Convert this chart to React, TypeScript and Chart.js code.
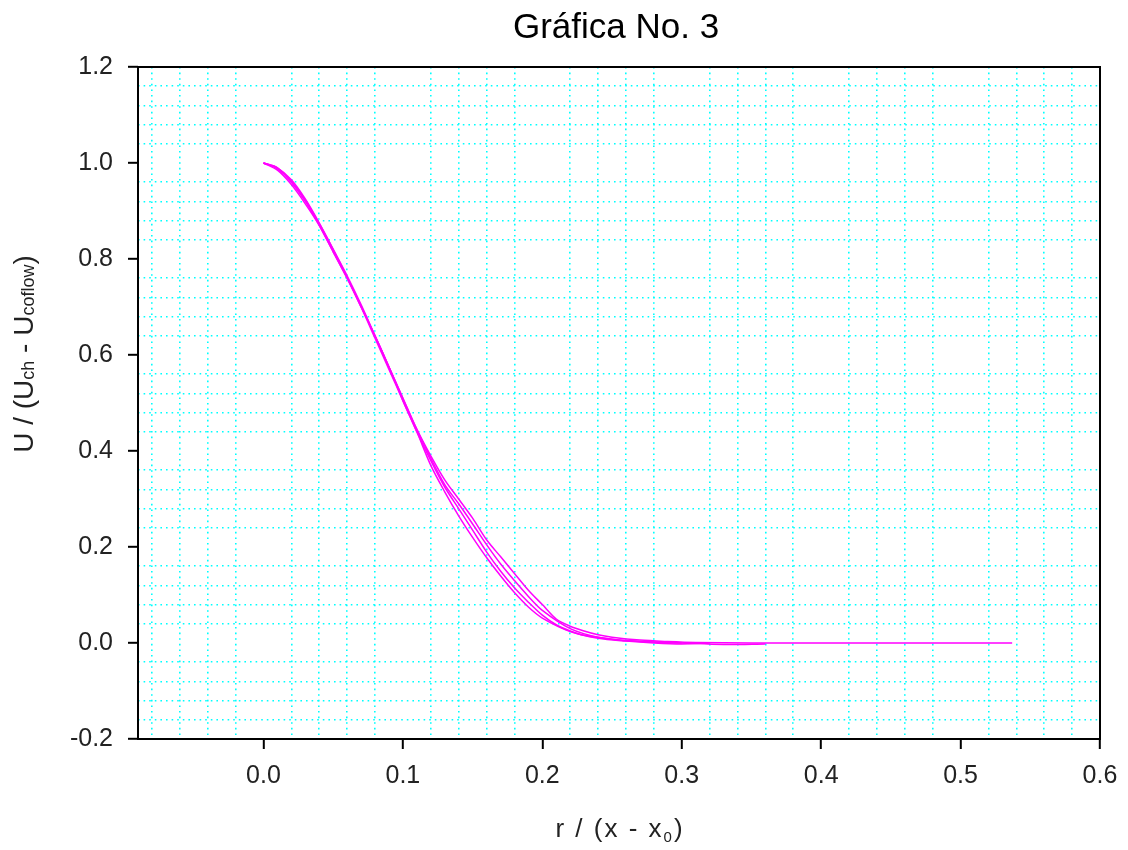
import React, { useEffect, useRef } from 'react';
import { Chart, registerables } from 'chart.js';

Chart.register(...registerables);

// ---- Data ----
const xA = [0, 0.01, 0.02, 0.03, 0.04, 0.05, 0.06, 0.07, 0.08, 0.09, 0.10, 0.11, 0.12, 0.13, 0.14, 0.15, 0.16, 0.17, 0.18, 0.19, 0.20, 0.21, 0.22, 0.23, 0.24, 0.25, 0.27, 0.29, 0.31, 0.35, 0.40, 0.45, 0.50, 0.537];
const yA = [1.0, 0.99, 0.965, 0.925, 0.875, 0.82, 0.765, 0.705, 0.64, 0.575, 0.51, 0.445, 0.39, 0.34, 0.30, 0.26, 0.215, 0.18, 0.145, 0.11, 0.08, 0.05, 0.035, 0.025, 0.017, 0.012, 0.006, 0.003, 0.001, 0.0, 0.0, 0.0, 0.0, 0.0];

const xB = [0, 0.01, 0.02, 0.03, 0.04, 0.05, 0.06, 0.07, 0.08, 0.09, 0.10, 0.11, 0.12, 0.13, 0.14, 0.15, 0.16, 0.17, 0.18, 0.19, 0.20, 0.21, 0.22, 0.23, 0.25, 0.27, 0.30, 0.33, 0.36];
const yB = [1.0, 0.985, 0.955, 0.915, 0.87, 0.815, 0.76, 0.70, 0.635, 0.57, 0.505, 0.44, 0.38, 0.325, 0.28, 0.235, 0.19, 0.15, 0.115, 0.085, 0.058, 0.038, 0.025, 0.016, 0.008, 0.003, 0.0, -0.003, -0.002];

const xC = [0, 0.01, 0.02, 0.03, 0.04, 0.05, 0.06, 0.07, 0.08, 0.09, 0.10, 0.11, 0.12, 0.13, 0.14, 0.15, 0.16, 0.17, 0.18, 0.19, 0.20, 0.22, 0.24, 0.26, 0.28, 0.30, 0.32];
const yC = [1.0, 0.99, 0.96, 0.92, 0.87, 0.815, 0.76, 0.70, 0.64, 0.575, 0.505, 0.44, 0.37, 0.315, 0.265, 0.22, 0.178, 0.14, 0.105, 0.075, 0.052, 0.024, 0.01, 0.004, 0.0, -0.002, 0.0];

const xD = [0, 0.01, 0.02, 0.03, 0.04, 0.05, 0.06, 0.07, 0.08, 0.09, 0.10, 0.11, 0.12, 0.13, 0.14, 0.15, 0.16, 0.17, 0.18, 0.19, 0.20, 0.22, 0.24, 0.26, 0.28, 0.30];
const yD = [1.0, 0.988, 0.962, 0.922, 0.874, 0.82, 0.762, 0.702, 0.64, 0.575, 0.51, 0.445, 0.385, 0.33, 0.29, 0.248, 0.205, 0.165, 0.13, 0.097, 0.068, 0.03, 0.012, 0.005, 0.002, 0.0];

// ---- Ticks / grid ----
const xMajor = [0, 0.1, 0.2, 0.3, 0.4, 0.5, 0.6];
const yMajor = [-0.2, 0, 0.2, 0.4, 0.6, 0.8, 1.0, 1.2];
const xGrid = [-0.08, -0.06, -0.04, -0.02, 0, 0.02, 0.04, 0.06, 0.08, 0.1, 0.12, 0.14, 0.16, 0.18, 0.2, 0.22, 0.24, 0.26, 0.28, 0.3, 0.32, 0.34, 0.36, 0.38, 0.4, 0.42, 0.44, 0.46, 0.48, 0.5, 0.52, 0.54, 0.56, 0.58, 0.6];
const yGrid = [-0.2, -0.16, -0.12, -0.08, -0.04, 0, 0.04, 0.08, 0.12, 0.16, 0.2, 0.24, 0.28, 0.32, 0.36, 0.4, 0.44, 0.48, 0.52, 0.56, 0.6, 0.64, 0.68, 0.72, 0.76, 0.8, 0.84, 0.88, 0.92, 0.96, 1.0, 1.04, 1.08, 1.12, 1.16, 1.2];

const TITLE = 'Gráfica No. 3';
const FONT = "'Liberation Sans', Arial, sans-serif";
const LINE_COLOR = '#FF00FF';
const GRID_COLOR = '#00FFFF';

const isMajor = (v: number, majors: number[]) => majors.some((m) => Math.abs(m - v) < 1e-9);

type Part = { t: string; size: number; dy?: number };

function drawRich(ctx: CanvasRenderingContext2D, parts: Part[], cx: number, baseY: number) {
  let total = 0;
  const widths = parts.map((p) => {
    ctx.font = `${p.size}px ${FONT}`;
    const w = ctx.measureText(p.t).width;
    total += w;
    return w;
  });
  let x = cx - total / 2;
  ctx.textAlign = 'left';
  ctx.textBaseline = 'alphabetic';
  parts.forEach((p, i) => {
    ctx.font = `${p.size}px ${FONT}`;
    ctx.fillText(p.t, x, baseY + (p.dy || 0));
    x += widths[i];
  });
}

const decorPlugin = {
  id: 'decor',
  beforeDraw(chart: any) {
    const { ctx, width, height } = chart;
    ctx.save();
    ctx.fillStyle = '#ffffff';
    ctx.fillRect(0, 0, width, height);
    ctx.restore();
  },
  afterDraw(chart: any) {
    const { ctx, chartArea } = chart;
    const { left, top, right, bottom } = chartArea;
    ctx.save();
    // frame
    ctx.strokeStyle = '#000';
    ctx.lineWidth = 2;
    ctx.strokeRect(left, top, right - left, bottom - top);
    // title
    ctx.fillStyle = '#000';
    ctx.font = `35px ${FONT}`;
    ctx.textAlign = 'center';
    ctx.textBaseline = 'alphabetic';
    ctx.fillText(TITLE, 616, 38);
    // x axis title
    ctx.fillStyle = '#222';
    (ctx as any).letterSpacing = '2px';
    drawRich(ctx, [
      { t: 'r / (x - x', size: 26 },
      { t: '0', size: 15, dy: 5 },
      { t: ')', size: 26 },
    ], 620, 837);
    (ctx as any).letterSpacing = '0px';
    // y axis title
    ctx.translate(33, 354);
    ctx.rotate(-Math.PI / 2);
    drawRich(ctx, [
      { t: 'U / (U', size: 28 },
      { t: 'ch', size: 18, dy: 1 },
      { t: ' - U', size: 28 },
      { t: 'coflow', size: 18, dy: 1 },
      { t: ')', size: 28 },
    ], 0, 0);
    ctx.restore();
  },
};

const mk = (xs: number[], ys: number[]) => xs.map((x, i) => ({ x, y: ys[i] }));

export default function App() {
  const ref = useRef<HTMLCanvasElement | null>(null);

  useEffect(() => {
    document.body.style.margin = '0';
    document.body.style.overflow = 'hidden';
    const canvas = ref.current;
    if (!canvas) return;

    const ds = (xs: number[], ys: number[]) => ({
      data: mk(xs, ys),
      showLine: true,
      borderColor: LINE_COLOR,
      backgroundColor: LINE_COLOR,
      borderWidth: 1.5,
      pointRadius: 0,
      tension: 0.3,
    });

    const gridColor = (majors: number[]) => (ctx: any) =>
      ctx.tick && isMajor(ctx.tick.value, majors) ? 'rgba(0,0,0,0)' : GRID_COLOR;
    const tickColor = (majors: number[]) => (ctx: any) =>
      ctx.tick && isMajor(ctx.tick.value, majors) ? '#000' : 'rgba(0,0,0,0)';

    const chart = new Chart(canvas, {
      type: 'scatter',
      data: {
        datasets: [ds(xA, yA), ds(xB, yB), ds(xC, yC), ds(xD, yD)],
      },
      plugins: [decorPlugin],
      options: {
        animation: false,
        responsive: false,
        devicePixelRatio: 1,
        layout: { padding: { top: 67, right: 28, left: 0, bottom: 0 } },
        plugins: {
          legend: { display: false },
          tooltip: { enabled: false },
          title: { display: false },
        },
        scales: {
          x: {
            type: 'linear',
            min: -0.09,
            max: 0.6,
            afterBuildTicks: (s: any) => {
              s.ticks = xGrid.map((v) => ({ value: v }));
            },
            afterFit: (s: any) => {
              s.height = 111;
              s.paddingLeft = 0;
              s.paddingRight = 0;
            },
            ticks: {
              autoSkip: false,
              maxRotation: 0,
              minRotation: 0,
              padding: 12,
              color: '#222',
              font: { family: FONT, size: 25 },
              callback: (v: any) => (isMajor(Number(v), xMajor) ? Number(v).toFixed(1) : ''),
            },
            grid: {
              color: gridColor(xMajor),
              lineWidth: 1.6,
              drawTicks: true,
              tickLength: 10,
              tickWidth: 2,
              tickColor: tickColor(xMajor),
            },
            border: { display: false, dash: [1.6, 4] },
          },
          y: {
            type: 'linear',
            min: -0.2,
            max: 1.2,
            afterBuildTicks: (s: any) => {
              s.ticks = yGrid.map((v) => ({ value: v }));
            },
            afterFit: (s: any) => {
              s.width = 138;
              s.paddingTop = 0;
              s.paddingBottom = 0;
            },
            ticks: {
              autoSkip: false,
              padding: 15,
              color: '#222',
              font: { family: FONT, size: 25 },
              callback: (v: any) => (isMajor(Number(v), yMajor) ? Number(v).toFixed(1) : ''),
            },
            grid: {
              color: gridColor(yMajor),
              lineWidth: 1.6,
              drawTicks: true,
              tickLength: 10,
              tickWidth: 2,
              tickColor: tickColor(yMajor),
            },
            border: { display: false, dash: [1.6, 4] },
          },
        },
      },
    } as any);

    return () => chart.destroy();
  }, []);

  return (
    <div style={{ width: 1128, height: 850 }}>
      <canvas ref={ref} width={1128} height={850} style={{ display: 'block', width: 1128, height: 850 }} />
    </div>
  );
}
